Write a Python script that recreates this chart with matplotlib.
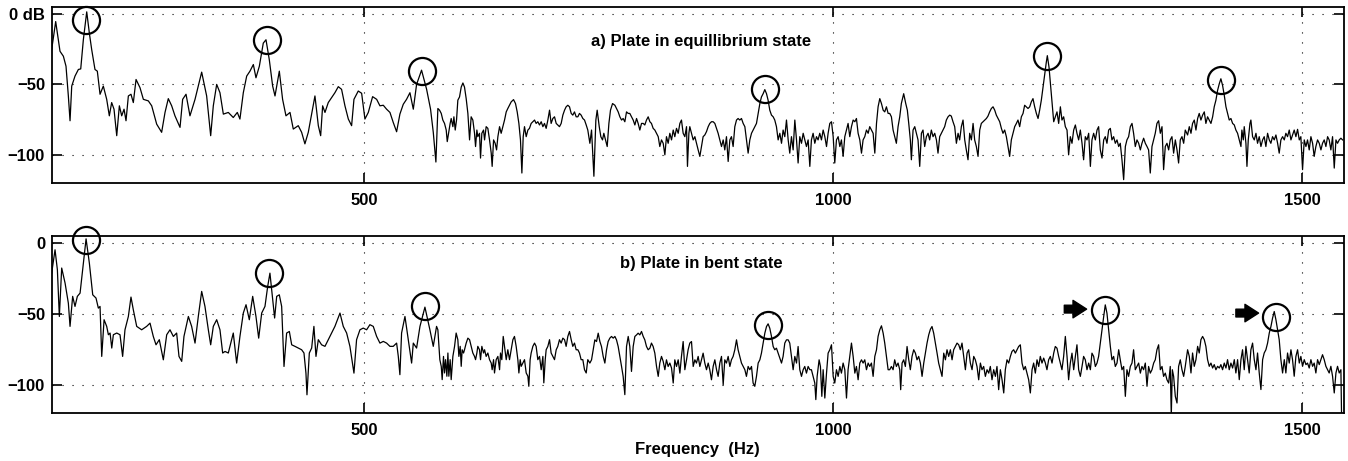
import numpy as np
import matplotlib
matplotlib.use("Agg")
import matplotlib.pyplot as plt

plt.rcParams.update({'font.family': ['Liberation Sans', 'DejaVu Sans'],
                     'font.weight': 'bold', 'font.size': 12})

# spectrum: (frequency Hz, level dB)
spec_a = [
    (166.6, -25.3), (170.9, -5.4), (175.5, -26.5), (179.1, -30.0), (181.9, -37.1), (184.4, -58.2),
    (186.2, -75.8), (188.0, -51.2), (191.5, -44.1), (195.1, -39.4), (197.6, -39.0), (200.4, -18.3),
    (204.0, 1.5), (206.8, -13.6), (209.3, -25.3), (212.8, -39.4), (215.3, -40.6), (218.2, -57.0),
    (221.7, -51.2), (225.3, -60.6), (228.1, -72.3), (230.6, -62.9), (233.1, -67.6), (236.0, -86.4),
    (238.8, -65.2), (241.3, -72.3), (243.8, -67.6), (245.9, -75.8), (248.4, -58.2), (251.2, -57.0),
    (253.7, -62.9), (256.6, -46.5), (260.8, -52.3), (264.4, -60.6), (269.7, -61.7), (273.3, -65.2),
    (278.6, -78.2), (283.9, -84.0), (287.5, -69.9), (291.0, -60.1), (294.6, -65.2), (298.1, -72.3),
    (303.5, -80.5), (306.3, -60.6), (309.9, -57.0), (314.1, -72.3), (319.5, -60.6), (326.6, -41.3),
    (331.9, -58.2), (336.2, -86.4), (339.0, -65.2), (342.6, -50.0), (346.1, -55.9), (349.7, -71.1),
    (355.0, -69.9), (360.3, -73.5), (364.6, -69.9), (367.4, -74.6), (371.0, -55.9), (374.6, -44.1),
    (378.1, -40.6), (381.7, -35.9), (384.5, -45.3), (388.1, -37.1), (392.3, -20.7), (395.2, -18.3),
    (398.7, -32.4), (402.3, -51.2), (404.8, -58.2), (409.4, -40.6), (412.9, -60.6), (416.5, -72.3),
    (420.8, -69.9), (424.3, -81.7), (429.6, -79.3), (433.2, -84.0), (436.7, -92.2), (440.3, -84.0),
    (443.9, -71.1), (447.4, -58.2), (451.0, -79.3), (453.5, -86.4), (455.6, -65.2), (458.1, -69.9),
    (461.6, -62.9), (465.2, -59.4), (468.7, -55.9), (472.3, -51.6), (475.8, -53.5), (479.4, -65.2),
    (483.0, -74.6), (486.5, -79.3), (489.0, -60.6), (493.6, -54.7), (497.2, -56.3), (500.7, -74.6),
    (504.3, -69.9), (508.9, -58.7), (513.2, -60.6), (516.7, -65.2), (520.3, -64.8), (523.8, -67.6),
    (527.4, -69.9), (530.9, -77.0), (534.5, -83.6), (538.0, -71.1), (541.6, -64.1), (545.1, -60.6),
    (548.7, -55.9), (552.3, -67.6), (555.8, -50.0), (561.1, -39.9), (566.5, -53.5), (570.7, -67.6),
    (573.6, -84.0), (576.4, -105.1),
    (578.5, -67.1), (580.3, -68.3), (582.1, -70.6), (583.8, -75.3), (585.6, -77.7), (587.4, -82.4),
    (588.5, -90.6), (589.9, -84.7), (591.6, -77.7), (592.7, -74.2), (594.5, -80.0), (595.6, -73.0),
    (597.0, -82.4), (598.4, -75.3), (599.8, -61.2), (601.6, -58.9), (603.4, -51.9), (605.2, -49.0),
    (606.9, -51.9), (608.7, -60.1), (610.5, -70.6), (612.3, -89.4), (614.0, -73.0), (615.8, -75.3),
    (617.6, -84.7), (618.7, -94.1), (620.1, -82.4), (621.1, -87.1), (622.9, -84.7), (624.0, -102.3),
    (625.4, -84.7), (627.2, -82.4), (628.3, -89.4), (630.0, -80.0), (631.8, -81.2), (633.6, -89.4),
    (635.4, -98.8), (636.4, -108.2), (637.9, -89.4), (639.6, -91.8), (641.1, -96.5), (642.5, -87.1),
    (644.3, -80.0), (646.0, -84.7), (647.8, -80.0), (649.6, -75.3), (651.4, -69.5), (653.1, -67.1),
    (654.9, -64.8), (656.7, -62.4), (659.2, -60.8), (661.3, -63.6), (663.1, -69.5), (664.9, -77.7),
    (666.6, -89.4), (668.1, -112.9), (669.5, -87.1), (670.9, -80.0), (672.7, -87.1), (674.5, -82.4),
    (676.2, -81.2), (678.0, -77.7), (679.8, -76.5), (681.6, -75.3), (683.3, -77.7), (685.1, -76.5),
    (686.9, -78.8), (688.7, -76.5), (690.5, -80.0), (692.2, -77.7), (694.0, -81.2), (695.8, -75.3),
    (697.6, -68.3), (699.3, -77.7), (701.1, -74.2), (702.9, -73.0), (704.7, -77.7), (706.4, -78.8),
    (708.2, -80.0), (710.0, -77.7), (711.8, -71.8), (713.6, -68.3), (715.3, -65.9), (717.1, -64.8),
    (718.9, -65.9), (720.7, -70.6), (722.4, -71.8), (724.2, -69.5), (726.0, -73.0), (727.8, -73.0),
    (729.5, -70.6), (731.3, -71.8), (733.1, -74.2), (734.9, -75.3), (736.7, -78.8), (738.4, -82.4),
    (740.6, -91.8), (742.4, -82.4), (744.9, -115.2), (747.0, -75.3), (748.4, -68.3), (750.6, -80.0),
    (752.3, -87.1), (754.1, -89.4), (755.5, -84.7), (757.3, -89.4), (759.1, -94.1), (760.9, -77.7),
    (762.6, -68.3), (764.8, -63.6), (767.3, -64.8), (769.0, -67.1), (770.8, -69.5), (772.6, -73.0),
    (774.4, -75.3), (776.1, -74.2), (777.9, -76.5), (779.7, -69.5), (781.5, -70.6), (783.2, -70.6),
    (785.0, -73.0), (786.8, -75.3), (788.6, -78.8), (790.4, -74.2), (792.1, -77.7), (793.9, -82.4),
    (795.7, -77.7), (797.5, -77.7), (799.2, -78.8), (801.0, -75.3), (802.8, -73.0), (804.6, -76.5),
    (806.3, -77.7), (808.1, -81.2), (809.9, -82.4), (811.7, -84.7), (813.5, -87.1), (815.2, -94.1),
    (817.0, -89.4), (818.8, -91.8), (820.6, -100.0), (822.3, -87.1), (824.1, -91.8), (825.9, -84.7),
    (827.7, -89.4), (829.5, -82.4), (831.2, -87.1), (833.0, -81.2), (834.8, -84.7), (836.6, -77.7),
    (838.3, -75.3), (840.1, -84.7), (841.9, -87.1), (843.7, -80.0), (844.7, -108.2), (846.2, -84.7),
    (847.2, -80.0), (849.0, -84.7), (850.8, -89.4), (852.6, -87.1), (854.3, -91.8), (856.1, -96.5),
    (857.9, -101.1), (859.7, -94.1), (861.4, -87.1), (863.2, -85.9), (865.0, -83.5), (866.8, -80.0),
    (868.5, -77.7), (870.3, -76.5), (872.1, -76.5), (873.9, -77.7), (875.7, -81.2), (877.4, -84.7),
    (879.2, -89.4), (881.0, -94.1), (882.8, -89.4), (884.5, -96.5), (886.3, -87.1), (888.1, -104.7),
    (889.9, -89.4), (891.6, -87.1), (893.4, -94.1), (895.2, -80.0), (897.0, -75.3), (898.7, -74.2),
    (900.5, -75.3), (902.3, -74.2), (904.1, -77.7), (905.9, -80.0), (907.6, -89.4), (909.4, -98.8),
    (911.2, -89.4), (913.0, -84.7), (914.7, -82.4), (916.5, -80.0), (918.3, -77.7), (920.1, -70.6),
    (921.9, -63.6), (923.6, -58.9), (925.4, -56.6), (927.2, -53.7), (929.0, -56.6), (930.7, -61.2),
    (932.5, -68.3), (934.3, -71.8), (936.1, -73.0), (937.8, -75.3), (939.6, -80.0), (941.4, -89.4),
    (943.2, -84.7), (945.0, -91.8), (946.7, -82.4), (948.5, -87.1), (950.3, -75.3), (952.1, -89.4),
    (953.8, -98.8), (955.6, -87.1), (957.4, -96.5), (959.2, -75.3), (961.0, -89.4), (962.7, -105.8),
    (964.5, -87.1), (966.3, -91.8), (968.1, -84.7), (969.8, -89.4), (971.6, -94.1), (973.4, -89.4),
    (975.2, -108.2), (976.9, -89.4), (978.7, -84.7), (980.5, -91.8), (982.3, -87.1), (984.0, -89.4),
    (985.8, -84.7), (987.6, -89.4), (989.4, -82.4), (991.2, -87.1), (993.0, -94.1), (994.7, -84.7),
    (996.5, -77.7), (998.3, -76.5), (1000.1, -87.1), (1001.8, -105.8), (1003.6, -89.4), (1005.4, -87.1),
    (1007.2, -94.1), (1008.9, -89.4), (1010.7, -101.1), (1012.5, -87.1), (1014.3, -82.4), (1016.0, -77.7),
    (1017.8, -87.1), (1019.6, -80.0), (1021.4, -75.3), (1023.2, -76.5), (1024.9, -74.2), (1026.7, -84.7),
    (1028.5, -89.4), (1030.3, -98.8), (1032.0, -89.4), (1033.8, -87.1), (1035.6, -82.4), (1037.4, -84.7),
    (1039.1, -80.0), (1040.9, -82.4), (1042.7, -84.7), (1044.5, -98.8), (1046.3, -77.7), (1048.0, -65.9),
    (1049.8, -60.1), (1051.6, -63.6), (1053.4, -68.3), (1055.1, -69.5), (1056.9, -65.9), (1058.7, -70.6),
    (1060.4, -70.6), (1062.2, -73.0), (1064.0, -82.4), (1065.7, -87.1), (1067.5, -91.8), (1069.3, -80.0),
    (1071.1, -73.0), (1072.8, -63.6), (1075.3, -56.6), (1077.5, -63.6), (1079.2, -68.3), (1080.7, -77.7),
    (1082.4, -89.4), (1083.5, -103.5), (1085.3, -82.4), (1087.1, -80.0), (1088.8, -84.7), (1090.6, -89.4),
    (1092.4, -108.2), (1094.2, -84.7), (1095.9, -82.4), (1097.7, -94.1), (1099.5, -87.1), (1101.3, -84.7),
    (1103.0, -89.4), (1104.8, -82.4), (1106.6, -87.1), (1108.4, -84.7), (1110.2, -89.4), (1111.9, -98.8),
    (1113.7, -87.1), (1115.5, -84.7), (1117.3, -82.4), (1119.0, -80.0), (1120.8, -75.3), (1122.6, -73.0),
    (1124.4, -71.8), (1126.1, -72.5), (1127.9, -76.5), (1129.7, -80.0), (1131.5, -91.8), (1133.3, -84.7),
    (1135.0, -89.4), (1136.8, -80.0), (1138.6, -75.3), (1140.4, -89.4), (1142.1, -96.5), (1143.9, -103.5),
    (1145.7, -84.7), (1147.5, -89.4), (1149.3, -77.7), (1151.0, -89.4), (1152.8, -94.1), (1154.6, -101.1),
    (1156.4, -82.4), (1158.1, -77.7), (1159.9, -76.5), (1161.7, -75.3), (1163.5, -74.2), (1165.2, -72.5),
    (1167.0, -69.5), (1168.8, -67.1), (1170.6, -65.9), (1172.4, -68.3), (1174.1, -71.8), (1175.9, -74.2),
    (1177.7, -76.5), (1179.5, -81.2), (1181.2, -84.7), (1183.0, -82.4), (1184.8, -87.1), (1186.6, -94.1),
    (1188.3, -101.1), (1190.1, -89.4), (1191.9, -84.7), (1193.7, -80.0), (1195.5, -77.7), (1197.2, -75.3),
    (1199.0, -80.0), (1200.8, -73.0), (1202.6, -70.6), (1204.3, -64.8), (1206.1, -65.9), (1207.9, -67.1),
    (1209.7, -65.9), (1211.4, -62.4), (1213.2, -60.1), (1215.0, -65.9), (1216.8, -70.6), (1218.6, -74.2),
    (1220.3, -68.3), (1222.1, -61.2), (1223.9, -51.9), (1225.7, -42.5), (1227.4, -34.3), (1228.5, -29.6),
    (1230.3, -37.8), (1232.1, -51.9), (1233.8, -65.9), (1235.3, -76.5), (1237.0, -73.0), (1238.8, -69.5),
    (1240.6, -77.7), (1242.4, -65.9), (1244.1, -75.3), (1245.9, -73.0), (1247.7, -80.0), (1249.5, -82.4),
    (1251.2, -100.0), (1253.0, -87.1), (1254.8, -91.8), (1256.6, -82.4), (1258.4, -78.8), (1260.1, -84.7),
    (1261.9, -89.4), (1263.7, -82.4), (1265.5, -91.8), (1267.2, -103.5), (1269.0, -87.1), (1270.8, -89.4),
    (1272.6, -84.7), (1274.4, -108.2), (1276.1, -89.4), (1277.9, -84.7), (1279.7, -89.4), (1281.5, -82.4),
    (1283.2, -80.0), (1285.0, -96.5), (1286.8, -102.3), (1288.6, -89.4), (1290.3, -87.1), (1292.1, -91.8),
    (1293.9, -82.4), (1295.7, -81.2), (1297.4, -89.4), (1299.2, -87.1), (1301.0, -91.8), (1302.8, -89.4),
    (1304.6, -94.1), (1306.3, -91.8), (1308.1, -103.5), (1309.9, -117.6), (1311.7, -94.1), (1313.4, -89.4),
    (1315.2, -87.1), (1317.0, -80.0), (1318.8, -77.7), (1320.5, -84.7), (1322.3, -94.1), (1324.1, -89.4),
    (1325.9, -91.8), (1327.7, -96.5), (1329.4, -91.8), (1331.2, -88.2), (1333.0, -91.8), (1334.8, -94.1),
    (1336.5, -96.5), (1338.3, -112.9), (1340.1, -94.1), (1341.9, -89.4), (1343.6, -84.7), (1345.4, -77.7),
    (1347.2, -75.8), (1349.0, -84.7), (1350.8, -80.0), (1352.5, -110.5), (1354.3, -94.1), (1356.1, -91.8),
    (1357.9, -96.5), (1359.6, -89.4), (1361.4, -87.1), (1363.2, -98.8), (1365.0, -89.4), (1366.8, -96.5),
    (1368.5, -105.8), (1370.3, -89.4), (1372.1, -87.1), (1373.9, -91.8), (1375.6, -82.4),
    (1378.1, -85.9), (1379.9, -80.0), (1381.7, -84.7), (1383.4, -77.7), (1385.2, -75.3), (1387.0, -82.4),
    (1388.8, -74.2), (1390.5, -70.6), (1392.3, -75.3), (1394.1, -71.8), (1395.9, -69.5), (1397.6, -77.7),
    (1399.4, -73.0), (1401.2, -75.3), (1403.0, -77.7), (1404.8, -73.0), (1406.5, -65.9), (1408.3, -61.2),
    (1410.1, -54.2), (1411.9, -49.5), (1413.6, -46.0), (1415.4, -50.7), (1417.2, -57.7), (1419.0, -65.9),
    (1420.7, -70.6), (1422.5, -75.3), (1424.3, -74.2), (1426.1, -77.7), (1427.9, -78.8), (1429.6, -82.4),
    (1431.4, -84.7), (1433.2, -89.4), (1435.0, -94.1), (1436.0, -82.4), (1437.5, -89.4), (1438.5, -80.0),
    (1440.3, -91.8), (1441.4, -108.2), (1442.8, -89.4), (1444.6, -77.7), (1445.6, -75.3), (1447.4, -87.1),
    (1449.2, -89.4), (1451.0, -84.7), (1452.7, -91.8), (1454.5, -87.1), (1456.3, -94.1), (1458.1, -89.4),
    (1459.8, -87.1), (1461.6, -94.1), (1463.4, -84.7), (1465.2, -89.4), (1466.9, -91.8), (1468.7, -87.1),
    (1470.5, -89.4), (1472.3, -85.9), (1474.1, -91.8), (1475.8, -98.8), (1477.6, -89.4), (1479.4, -87.1),
    (1481.2, -89.4), (1482.9, -84.7), (1484.7, -87.1), (1486.5, -82.4), (1488.3, -89.4), (1490.0, -85.9),
    (1491.8, -82.4), (1493.6, -87.1), (1495.4, -81.9), (1497.2, -89.4), (1498.9, -87.1), (1500.7, -110.5),
    (1502.5, -89.4), (1504.3, -94.1), (1506.0, -89.4), (1507.8, -96.5), (1509.6, -87.1), (1511.4, -91.8),
    (1513.1, -101.1), (1514.9, -94.1), (1516.7, -89.4), (1518.5, -91.8), (1520.3, -96.5), (1522.0, -91.8),
    (1523.8, -89.4), (1525.6, -94.1), (1527.4, -87.1), (1529.1, -89.4), (1530.9, -96.5), (1532.7, -87.1),
    (1534.5, -109.4), (1536.3, -89.4), (1538.0, -91.8), (1539.8, -89.4), (1541.6, -88.2), (1543.4, -89.4),
]

# spectrum
spec_b = [
    (166.6, -21.2), (170.2, -4.7), (172.7, -18.8), (174.8, -51.8), (177.3, -17.6), (180.9, -28.2),
    (184.4, -42.4), (186.2, -58.8), (189.0, -37.6), (191.5, -44.7), (194.0, -37.6), (196.9, -35.3),
    (200.4, -14.1), (203.3, 3.0), (206.8, -14.1), (210.4, -36.5), (213.9, -38.8), (216.4, -45.9),
    (218.2, -44.7), (220.0, -80.0), (222.5, -54.1), (225.3, -58.8), (227.1, -64.7), (228.9, -63.5),
    (230.7, -74.1), (232.4, -64.7), (236.0, -63.5), (239.5, -64.7), (242.3, -80.0), (244.8, -61.2),
    (248.4, -51.8), (251.2, -38.1), (253.7, -47.1), (257.3, -58.8), (262.6, -61.2), (267.9, -58.8),
    (271.5, -56.5), (275.0, -65.9), (277.9, -71.8), (281.4, -68.2), (285.7, -82.4), (289.3, -64.7),
    (292.8, -61.2), (296.4, -65.9), (299.9, -63.5), (302.4, -80.0), (305.3, -83.5), (307.7, -65.9),
    (312.4, -51.8), (315.9, -58.8), (319.5, -70.6), (323.0, -51.8), (326.6, -34.1), (330.1, -44.7),
    (333.7, -61.2), (336.2, -71.8), (339.0, -58.8), (342.6, -54.1), (346.1, -61.2), (349.0, -77.6),
    (351.5, -76.5), (355.0, -77.6), (358.6, -68.2), (360.3, -63.5), (363.9, -84.7), (367.4, -65.9),
    (371.0, -49.4), (373.9, -43.5), (377.4, -54.1), (381.0, -37.6), (384.5, -51.8), (387.4, -67.1),
    (390.6, -49.4), (394.1, -44.7), (397.0, -30.6), (399.4, -21.2), (402.3, -40.0), (404.4, -52.9),
    (406.6, -37.6), (409.4, -36.5), (411.9, -44.7), (414.4, -87.1), (417.2, -63.5), (420.1, -62.4),
    (422.6, -71.8), (426.1, -72.9), (429.6, -74.1), (433.2, -75.3), (435.7, -77.6), (437.8, -91.8),
    (438.9, -107.1), (441.4, -77.6), (443.9, -74.1), (446.3, -58.8), (448.5, -80.0), (451.0, -68.2),
    (454.5, -71.8), (458.1, -72.9), (461.6, -68.2), (465.2, -63.5), (468.7, -58.8), (474.1, -49.4),
    (477.6, -58.8), (481.2, -63.5), (484.7, -72.9), (489.0, -91.8), (491.8, -68.2), (495.4, -61.2),
    (498.9, -60.0), (502.5, -61.2), (506.0, -57.6), (509.6, -58.8), (513.2, -65.9), (516.7, -70.6),
    (520.3, -69.4), (523.8, -70.6), (527.4, -72.9), (530.9, -72.9), (534.5, -70.6), (536.3, -80.0),
    (538.0, -92.9), (539.8, -63.5), (543.4, -51.8), (546.9, -68.2), (550.5, -84.7), (552.3, -70.6),
    (555.8, -74.1), (559.4, -58.8), (564.7, -45.2), (570.0, -61.2), (573.6, -72.9), (577.1, -58.8),
    (578.5, -61.2), (579.6, -72.9), (580.6, -82.3), (582.1, -87.0), (583.1, -96.4), (584.5, -80.0),
    (585.6, -91.7), (586.7, -82.3), (588.1, -94.0), (589.2, -77.6), (590.2, -94.0), (591.6, -82.3),
    (592.7, -96.4), (594.5, -80.0), (596.3, -72.9), (598.0, -63.5), (599.8, -68.2), (600.9, -80.0),
    (602.3, -72.9), (603.4, -87.0), (604.4, -75.3), (605.9, -77.6), (606.9, -75.3), (608.7, -70.6),
    (610.5, -67.1), (612.3, -68.2), (614.0, -72.9), (615.8, -77.6), (617.6, -80.0), (618.7, -82.3),
    (620.1, -77.6), (621.1, -72.9), (622.9, -75.3), (624.0, -82.3), (625.4, -72.9), (627.2, -77.6),
    (628.3, -75.3), (630.0, -80.0), (631.8, -77.6), (633.6, -82.3), (635.4, -84.7), (636.4, -89.4),
    (637.9, -82.3), (638.9, -91.7), (640.7, -82.3), (642.5, -80.0), (644.3, -89.4), (645.3, -77.6),
    (646.7, -82.3), (648.2, -65.9), (649.6, -72.9), (651.4, -82.3), (653.1, -75.3), (654.9, -82.3),
    (656.7, -75.3), (658.5, -68.2), (660.2, -65.9), (662.0, -72.9), (663.8, -82.3), (664.9, -91.7),
    (666.3, -82.3), (667.4, -87.0), (669.1, -84.7), (670.9, -82.3), (672.7, -91.7), (674.5, -94.0),
    (675.5, -101.1), (676.9, -82.3), (678.0, -77.6), (679.8, -72.9), (681.6, -70.6), (683.3, -72.9),
    (685.1, -82.3), (686.9, -80.0), (688.7, -89.4), (690.5, -80.0), (691.5, -98.7), (693.0, -82.3),
    (694.0, -75.3), (695.8, -72.9), (697.6, -68.2), (699.3, -77.6), (701.1, -80.0), (702.9, -82.3),
    (704.7, -75.3), (706.4, -72.9), (708.2, -68.2), (710.0, -70.6), (711.8, -67.1), (713.6, -68.2),
    (715.3, -72.9), (717.1, -65.9), (718.9, -62.4), (720.7, -68.2), (722.4, -72.9), (724.2, -70.6),
    (726.0, -75.3), (727.8, -75.3), (729.5, -77.6), (731.3, -82.3), (733.1, -82.3), (734.9, -89.4),
    (736.7, -91.7), (738.4, -82.3),
    (740.6, -84.7), (742.4, -82.4), (744.2, -75.3), (745.9, -68.3), (747.7, -69.5), (749.5, -63.6),
    (751.3, -69.5), (753.0, -73.0), (754.8, -80.0), (756.6, -84.7), (758.4, -75.3), (760.1, -69.5),
    (761.9, -67.1), (763.7, -65.9), (765.5, -67.1), (767.3, -65.9), (769.0, -68.3), (770.8, -73.0),
    (772.6, -80.0), (774.4, -87.1), (776.1, -94.1), (777.9, -107.0), (779.7, -73.0), (781.5, -65.9),
    (783.2, -73.0), (785.0, -90.6), (786.8, -73.0), (788.6, -65.9), (790.4, -64.8), (792.1, -63.6),
    (793.9, -64.8), (795.7, -62.4), (797.5, -65.9), (799.2, -68.3), (801.0, -73.0), (802.8, -75.3),
    (804.6, -74.2), (806.3, -70.6), (808.1, -73.0), (809.9, -77.7), (811.7, -87.1), (813.5, -94.1),
    (815.2, -84.7), (817.0, -80.0), (818.8, -83.5), (820.6, -89.4), (822.3, -82.4), (824.1, -87.1),
    (825.9, -84.7), (827.7, -88.2), (829.5, -98.8), (831.2, -82.4), (833.0, -87.1), (834.8, -82.4),
    (836.6, -91.8), (838.3, -80.0), (840.1, -69.5), (841.9, -89.4), (843.7, -82.4), (845.4, -75.3),
    (847.2, -70.6), (849.0, -69.5), (850.8, -87.1), (852.6, -82.4), (854.3, -84.7), (856.1, -80.0),
    (857.9, -87.1), (859.7, -82.4), (861.4, -77.7), (863.2, -84.7), (865.0, -89.4), (866.8, -84.7),
    (868.5, -89.4), (870.3, -96.5), (872.1, -87.1), (873.9, -82.4), (875.7, -89.4), (877.4, -94.1),
    (879.2, -84.7), (881.0, -80.0), (882.8, -100.0), (884.5, -82.4), (886.3, -84.7), (888.1, -80.0),
    (889.9, -87.1), (891.6, -82.4), (893.4, -80.0), (895.2, -75.3), (897.0, -68.3), (898.7, -75.3),
    (900.5, -80.0), (902.3, -84.7), (904.1, -87.1), (905.9, -89.4), (907.6, -94.1), (909.4, -87.1),
    (911.2, -89.4), (913.0, -87.1), (914.7, -98.8), (916.5, -101.1), (918.3, -94.1), (920.1, -84.7),
    (921.9, -82.4), (923.6, -77.7), (925.4, -70.6), (927.2, -63.6), (929.0, -58.9), (930.7, -57.0),
    (932.5, -60.1), (934.3, -65.9), (936.1, -73.0), (937.8, -75.3), (939.6, -74.2), (941.4, -77.7),
    (943.2, -81.2), (945.0, -84.7), (946.7, -80.0), (948.5, -70.6), (950.3, -68.3), (952.1, -68.3),
    (953.8, -70.6), (955.6, -80.0), (957.4, -89.4), (959.2, -80.0), (961.0, -84.7), (962.7, -73.0),
    (964.5, -89.4), (966.3, -94.1), (968.1, -89.4), (969.8, -87.1), (971.6, -91.8), (973.4, -87.1),
    (975.2, -89.4), (976.9, -89.4), (978.7, -94.1), (980.5, -98.8), (981.6, -110.5), (983.0, -94.1),
    (985.1, -82.4), (986.5, -87.1), (988.0, -108.2), (989.4, -89.4), (991.2, -109.4), (993.0, -91.8),
    (994.7, -77.7), (996.5, -75.3), (998.3, -71.8), (1000.1, -94.1), (1001.8, -98.8), (1003.6, -89.4),
    (1005.4, -94.1), (1007.2, -87.1), (1008.9, -91.8), (1010.7, -84.7), (1012.5, -89.4), (1014.3, -109.4),
    (1016.0, -89.4), (1017.8, -80.0), (1019.6, -70.6), (1021.4, -80.0), (1023.2, -91.8), (1024.9, -87.1),
    (1026.7, -96.5), (1028.5, -84.7), (1030.3, -82.4), (1032.0, -84.7), (1033.8, -82.4), (1035.6, -89.4),
    (1037.4, -84.7), (1039.1, -87.1), (1040.9, -84.7), (1042.7, -94.1), (1044.5, -80.0), (1046.3, -75.3),
    (1048.0, -65.9), (1049.8, -61.2), (1051.6, -58.4), (1053.4, -63.6), (1055.1, -70.6), (1056.9, -80.0),
    (1058.7, -89.4),
    (1060.4, -89.4), (1062.2, -87.1), (1064.0, -89.4), (1065.7, -82.4), (1067.5, -87.1), (1069.3, -84.7),
    (1071.1, -89.4), (1072.1, -103.5), (1073.6, -84.7), (1075.3, -82.4), (1077.1, -87.1), (1078.9, -73.0),
    (1080.7, -82.4), (1082.4, -89.4), (1084.2, -80.0), (1086.0, -75.3), (1087.8, -77.7), (1089.5, -82.4),
    (1091.3, -80.0), (1093.1, -84.7), (1094.9, -94.1), (1096.7, -84.7), (1098.4, -77.7), (1100.2, -70.6),
    (1102.0, -64.8), (1103.8, -60.8), (1105.5, -58.9), (1107.3, -63.6), (1109.1, -70.6), (1110.9, -77.7),
    (1112.6, -84.7), (1114.4, -89.4), (1116.2, -94.1), (1118.0, -77.7), (1119.8, -82.4), (1121.5, -75.3),
    (1123.3, -80.0), (1125.1, -75.3), (1126.9, -82.4), (1128.6, -75.3), (1130.4, -73.0), (1132.2, -70.6),
    (1134.0, -71.8), (1135.7, -75.3), (1137.5, -70.6), (1139.3, -80.0), (1141.1, -89.4), (1142.9, -77.7),
    (1144.6, -75.3), (1146.4, -84.7), (1148.2, -89.4), (1150.0, -80.0), (1151.7, -82.4), (1153.5, -87.1),
    (1155.3, -96.5), (1157.1, -84.7), (1158.8, -89.4), (1160.6, -87.1), (1162.4, -94.1), (1164.2, -89.4),
    (1166.0, -91.8), (1167.7, -87.1), (1169.5, -96.5), (1171.3, -89.4), (1173.1, -94.1), (1174.8, -87.1),
    (1176.6, -103.5), (1178.4, -89.4), (1180.2, -96.5), (1182.0, -105.8), (1183.7, -89.4), (1185.5, -82.4),
    (1187.3, -84.7), (1189.1, -80.0), (1190.8, -76.5), (1192.6, -75.3), (1194.4, -77.7), (1196.2, -75.3),
    (1197.9, -73.0), (1199.7, -71.8), (1201.5, -84.7), (1203.3, -89.4), (1205.0, -87.1), (1206.8, -91.8),
    (1208.6, -96.5), (1210.4, -105.8), (1212.2, -89.4), (1213.9, -84.7), (1215.7, -91.8), (1217.5, -82.4),
    (1219.3, -87.1), (1221.0, -80.0), (1222.8, -84.7), (1224.6, -81.2), (1226.4, -84.7), (1228.1, -89.4),
    (1229.9, -82.4), (1231.7, -80.0), (1233.5, -84.7), (1235.3, -77.7), (1237.0, -73.0), (1238.8, -74.2),
    (1240.6, -80.0), (1242.4, -84.7), (1244.1, -89.4), (1245.9, -80.0), (1247.7, -65.9), (1249.5, -80.0),
    (1251.2, -96.5), (1253.0, -84.7), (1254.8, -77.7), (1256.6, -89.4), (1258.4, -80.0), (1260.1, -71.8),
    (1261.9, -89.4), (1263.7, -94.1), (1265.5, -87.1), (1267.2, -80.0), (1269.0, -82.4), (1270.8, -89.4),
    (1272.6, -84.7), (1274.4, -89.4), (1276.1, -77.7), (1277.9, -80.0), (1279.7, -87.1), (1281.5, -84.7),
    (1283.2, -80.0), (1285.0, -70.6), (1286.8, -61.2), (1288.6, -51.9), (1290.3, -43.6), (1292.1, -49.5),
    (1293.9, -61.2), (1295.7, -73.0), (1297.4, -82.4), (1299.2, -80.0), (1301.0, -87.1), (1302.8, -84.7),
    (1304.6, -75.3), (1306.3, -82.4), (1308.1, -89.4), (1309.9, -87.1), (1311.7, -108.2), (1313.4, -89.4),
    (1315.2, -94.1), (1317.0, -87.1), (1318.8, -84.7), (1320.5, -75.3), (1322.3, -89.4), (1324.1, -87.1),
    (1325.9, -84.7), (1327.7, -91.8), (1329.4, -87.1), (1331.2, -89.4), (1333.0, -84.7), (1334.8, -101.1),
    (1336.5, -87.1), (1338.3, -91.8), (1340.1, -89.4), (1341.9, -84.7), (1343.6, -82.4), (1345.4, -75.3),
    (1347.2, -71.8), (1349.0, -89.4), (1350.8, -87.1), (1352.5, -94.1), (1354.3, -91.8), (1356.1, -96.5),
    (1357.9, -98.8), (1359.6, -87.1), (1360.7, -122.0), (1361.8, -89.4), (1363.2, -94.1), (1365.0, -108.2),
    (1366.8, -112.9), (1368.5, -87.1), (1370.3, -82.4), (1372.1, -89.4), (1373.9, -94.1), (1375.6, -87.1),
    (1378.1, -75.3), (1379.9, -80.0), (1381.7, -91.7), (1383.4, -77.6), (1385.2, -87.0), (1387.0, -82.3),
    (1388.8, -72.9), (1390.5, -77.6), (1392.3, -68.2), (1394.1, -65.9), (1395.9, -68.2), (1397.6, -72.9),
    (1399.4, -82.3), (1401.2, -87.0), (1403.0, -84.7), (1404.8, -88.2), (1406.5, -85.8), (1408.3, -89.4),
    (1410.1, -87.0), (1411.9, -88.2), (1413.6, -85.8), (1415.4, -89.4), (1417.2, -84.7), (1419.0, -88.2),
    (1420.7, -82.3), (1422.5, -89.4), (1424.3, -84.7), (1426.1, -88.2), (1427.9, -82.3), (1429.6, -91.7),
    (1431.4, -82.3), (1433.2, -96.4), (1435.0, -82.3), (1436.7, -75.3), (1438.5, -89.4), (1440.3, -72.9),
    (1442.1, -82.3), (1443.8, -91.7), (1445.6, -75.3), (1447.4, -70.6), (1449.2, -82.3), (1451.0, -89.4),
    (1452.7, -77.6), (1454.5, -91.7), (1456.3, -103.4), (1458.1, -82.3), (1459.8, -77.6), (1461.6, -75.3),
    (1463.4, -70.6), (1465.2, -63.5), (1467.0, -58.8), (1468.7, -53.0), (1470.5, -48.3), (1472.3, -54.1),
    (1474.1, -61.2), (1475.8, -68.2), (1477.6, -82.3), (1479.4, -91.7), (1481.2, -82.3), (1482.9, -91.7),
    (1484.7, -77.6), (1486.5, -84.7), (1488.3, -75.3), (1490.0, -82.3), (1491.8, -94.0), (1493.6, -80.0),
    (1495.4, -75.3), (1497.2, -84.7), (1498.9, -80.0), (1500.7, -87.0), (1502.5, -82.3), (1504.3, -85.8),
    (1506.0, -84.7), (1507.8, -88.2), (1509.6, -82.3), (1511.4, -87.0), (1513.1, -84.7), (1514.9, -91.7),
    (1516.7, -82.3), (1518.5, -85.8), (1520.3, -82.3), (1522.0, -78.8), (1523.8, -82.3), (1525.6, -87.0),
    (1527.4, -89.4), (1529.1, -91.7), (1530.9, -87.0), (1532.7, -94.0), (1534.5, -105.8), (1536.3, -91.7),
    (1538.0, -87.0), (1539.8, -91.7), (1541.6, -89.4), (1542.3, -122.0),
]

# circled peaks
circle_a_f = [203.3, 395.9, 561.1, 927.1, 1228.1, 1413.6]
circle_a_db = [-4.2, -18.8, -40.6, -53.0, -30.0, -47.2]
circle_b_f = [203.3, 398.7, 564.7, 930.7, 1289.9, 1472.3]
circle_b_db = [1.9, -21.2, -44.7, -57.6, -47.5, -52.5]

# arrows in panel b: start freq, end freq, level
arrow_start = [1246.6, 1429.6]
arrow_end = [1270.4, 1453.8]
arrow_db = [-46.6, -49.4]

x_ticks = [500, 1000, 1500]
y_ticks = [-100, -50, 0]
y_labels_a = ['\u2212100', '\u221250', '0 dB']
y_labels_b = ['\u2212100', '\u221250', '0']

fig = plt.figure(figsize=(13.48, 4.61), dpi=100)
ax_a = fig.add_axes([0.0386, 0.603, 0.9585, 0.382])
ax_b = fig.add_axes([0.0386, 0.104, 0.9585, 0.384])


def style(ax, ylabels):
    ax.set_xlim(167, 1545)
    ax.set_ylim(-120, 5)
    ax.set_xticks(x_ticks)
    ax.set_yticks(y_ticks)
    ax.set_yticklabels(ylabels)
    ax.tick_params(direction='in', length=7, width=1.2, top=True, right=True,
                   labelsize=12, pad=5)
    ax.tick_params(axis='x', pad=7)
    for lab in ax.get_xticklabels() + ax.get_yticklabels():
        lab.set_fontweight('bold')
    ax.grid(True, linestyle=(0, (1, 8)), color='k', linewidth=0.8)
    for sp in ax.spines.values():
        sp.set_linewidth(1.3)


for ax, spec, cf, cd, ylab in [(ax_a, spec_a, circle_a_f, circle_a_db, y_labels_a),
                               (ax_b, spec_b, circle_b_f, circle_b_db, y_labels_b)]:
    f, db = np.array(spec).T
    ax.plot(f, db, color='k', linewidth=0.9)
    ax.plot(cf, cd, 'o', mfc='none', mec='k', ms=19.5, mew=1.6, clip_on=False)
    style(ax, ylab)

ax_a.text(0.5026, 0.803, 'a) Plate in equillibrium state', transform=ax_a.transAxes,
          ha='center', va='center', fontsize=12, fontweight='bold')
ax_b.text(0.5026, 0.846, 'b) Plate in bent state', transform=ax_b.transAxes,
          ha='center', va='center', fontsize=12, fontweight='bold')

for s, e, d in zip(arrow_start, arrow_end, arrow_db):
    ax_b.annotate('', xy=(e, d), xytext=(s, d),
                  arrowprops=dict(arrowstyle='simple,head_width=0.9,head_length=0.7,tail_width=0.4',
                                  color='k', shrinkA=0, shrinkB=0, mutation_scale=14))

fig.text(0.5175, 0.024, 'Frequency  (Hz)', ha='center', va='center',
         fontsize=12, fontweight='bold')

fig.savefig('out.png', dpi=100)
